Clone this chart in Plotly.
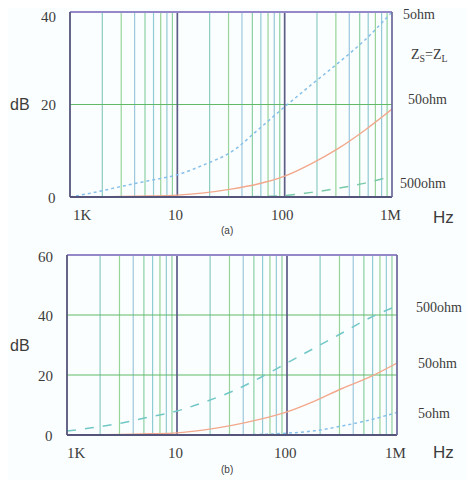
import numpy as np
import plotly.graph_objects as go

# ---------------- data ----------------
freq_hz = [1000, 1778, 3162, 5623, 10000, 17783, 31623, 56234,
           100000, 177828, 316228, 562341, 1000000]

# (a) Zs = ZL
a_5ohm = [0, 1.1, 2.4, 3.6, 4.8, 7.0, 9.7, 14.5, 19.5, 24.3, 29.0, 34.0, 40.0]
a_50ohm = [0, 0.05, 0.1, 0.2, 0.4, 0.9, 1.7, 2.8, 4.5, 7.2, 10.5, 14.5, 19.0]
a_500ohm = [0, 0, 0, 0, 0, 0, 0, 0.1, 0.3, 1.0, 1.9, 3.0, 4.5]

# (b)
b_500ohm = [1.3, 2.5, 4.0, 6.0, 8.0, 11.0, 14.5, 19.0, 24.0, 29.0, 34.0, 39.0, 43.0]
b_50ohm = [0, 0.1, 0.2, 0.4, 0.7, 1.7, 3.2, 5.2, 7.7, 11.3, 15.5, 19.3, 24.0]
b_5ohm = [0, 0, 0, 0, 0, 0, 0, 0.2, 0.6, 1.4, 3.0, 5.0, 7.5]

x_tick_vals = [1e3, 1e4, 1e5, 1e6]
x_tick_text = ["1K", "10", "100", "1M"]
a_y_ticks = [0, 20, 40]
b_y_ticks = [0, 20, 40, 60]
a_labels = ["5ohm", "Z<sub>S</sub>=Z<sub>L</sub>", "50ohm", "500ohm"]
a_label_y = [39.5, 30.5, 21.0, 3.0]
a_label_px = [401, 409, 406, 398]
b_labels = ["500ohm", "50ohm", "5ohm"]
b_label_y = [42.5, 24.0, 7.3]
b_label_px = [414, 416, 416]

# ---------------- styling ----------------
# the page body has an 8px default margin, so the figure is drawn 8px smaller
OFF = 8
W, H = 475 - OFF, 480 - OFF
SERIF = "Liberation Serif, Times New Roman, serif"
SANS = "Liberation Sans, Arial, sans-serif"
TXT = "#3c3c3c"

def px_x(p):
    return (p - OFF) / W

def px_y(p):
    return 1 - (p - OFF) / H

top_dom_x = [px_x(70), px_x(392)]
top_dom_y = [px_y(197), px_y(12)]
bot_dom_x = [px_x(67), px_x(397)]
bot_dom_y = [px_y(435), px_y(255)]

fig = go.Figure()

BLUE = "#86c0ea"
RED = "#f2a88c"
GREEN = "#78caa8"
CYAN = "#72c8c6"

fig.add_trace(go.Scatter(x=freq_hz, y=a_5ohm, mode="lines", line=dict(color=BLUE, width=1.5, dash="dot", shape="spline"), xaxis="x", yaxis="y", showlegend=False))
fig.add_trace(go.Scatter(x=freq_hz, y=a_50ohm, mode="lines", line=dict(color=RED, width=1.4, shape="spline"), xaxis="x", yaxis="y", showlegend=False))
fig.add_trace(go.Scatter(x=freq_hz, y=a_500ohm, mode="lines", line=dict(color=GREEN, width=1.5, dash="dash", shape="spline"), xaxis="x", yaxis="y", showlegend=False))

fig.add_trace(go.Scatter(x=freq_hz, y=b_500ohm, mode="lines", line=dict(color=CYAN, width=1.5, dash="dash", shape="spline"), xaxis="x2", yaxis="y2", showlegend=False))
fig.add_trace(go.Scatter(x=freq_hz, y=b_50ohm, mode="lines", line=dict(color=RED, width=1.4, shape="spline"), xaxis="x2", yaxis="y2", showlegend=False))
fig.add_trace(go.Scatter(x=freq_hz, y=b_5ohm, mode="lines", line=dict(color=BLUE, width=1.5, dash="dot", shape="spline"), xaxis="x2", yaxis="y2", showlegend=False))

shapes = []
minor_cols = ["#8ccbc2", "#96d49a", "#9cc8dc", "#8cd0a4", "#90cad2", "#98d298", "#94c8d6", "#8ed09e"]

def add_grid(xref, yref, hlines):
    # vertical minor grid lines (2..9 within each decade)
    for dec in range(3, 6):
        for i, m in enumerate(range(2, 10)):
            f = m * 10 ** dec
            shapes.append(dict(type="line", xref=xref, yref=yref + " domain", x0=f, x1=f, y0=0, y1=1,
                               line=dict(color=minor_cols[i], width=1.2), layer="below"))
    # horizontal grid
    for v in hlines:
        shapes.append(dict(type="line", xref=xref + " domain", yref=yref, x0=0, x1=1, y0=v, y1=v,
                           line=dict(color="#62ba66", width=1.2), layer="below"))
    # decade lines
    for f in x_tick_vals[1:-1]:
        shapes.append(dict(type="line", xref=xref, yref=yref + " domain", x0=f, x1=f, y0=0, y1=1,
                           line=dict(color="#5c5c86", width=1.7), layer="below"))
    # frame
    shapes.append(dict(type="line", xref=xref + " domain", yref=yref + " domain", x0=0, x1=1, y0=1, y1=1,
                       line=dict(color="#9488c8", width=1.8)))
    shapes.append(dict(type="line", xref=xref + " domain", yref=yref + " domain", x0=0, x1=1, y0=0, y1=0,
                       line=dict(color="#55557c", width=1.8)))
    shapes.append(dict(type="line", xref=xref + " domain", yref=yref + " domain", x0=0, x1=0, y0=0, y1=1,
                       line=dict(color="#55557c", width=1.8)))
    shapes.append(dict(type="line", xref=xref + " domain", yref=yref + " domain", x0=1, x1=1, y0=0, y1=1,
                       line=dict(color="#7070a0", width=1.8)))

add_grid("x", "y", [20])
add_grid("x2", "y2", [20, 40])

annotations = []

def x_labels(xref, yref, xshift_first):
    for i, (v, t) in enumerate(zip(x_tick_vals, x_tick_text)):
        annotations.append(dict(x=np.log10(v), y=0, xref=xref, yref=yref, text=t, showarrow=False,
                                yanchor="top", yshift=-8, xshift=(xshift_first if i == 0 else -2),
                                font=dict(family=SERIF, size=15, color=TXT)))

def y_labels(yref, vals, right_px, top_shift):
    for i, v in enumerate(vals):
        annotations.append(dict(x=px_x(right_px), y=v, xref="paper", yref=yref, text=str(v), showarrow=False,
                                xanchor="right", yanchor="middle",
                                yshift=(top_shift if i == len(vals) - 1 else -1),
                                font=dict(family=SERIF, size=15, color=TXT)))

x_labels("x", "y", 12)
x_labels("x2", "y2", 9)
y_labels("y", a_y_ticks, 58, -5)
y_labels("y2", b_y_ticks, 55, -2)

for t, yv, xp in zip(a_labels, a_label_y, a_label_px):
    annotations.append(dict(x=px_x(xp), y=yv, xref="paper", yref="y", text=t, showarrow=False,
                            xanchor="left", yanchor="middle",
                            font=dict(family=SERIF, size=14, color=TXT)))
for t, yv, xp in zip(b_labels, b_label_y, b_label_px):
    annotations.append(dict(x=px_x(xp), y=yv, xref="paper", yref="y2", text=t, showarrow=False,
                            xanchor="left", yanchor="middle",
                            font=dict(family=SERIF, size=14, color=TXT)))

for xr, yr, yv in [("x", "y", 20), ("x2", "y2", 30)]:
    annotations.append(dict(x=px_x(8), y=yv, xref="paper", yref=yr, text="dB", showarrow=False,
                            xanchor="left", yanchor="middle", font=dict(family=SANS, size=16, color=TXT)))
for yp in [217, 452]:
    annotations.append(dict(x=px_x(431), y=px_y(yp), xref="paper", yref="paper", text="Hz", showarrow=False,
                            xanchor="left", yanchor="middle", font=dict(family=SANS, size=17, color=TXT)))
for yp, t in [(230, "(a)"), (469, "(b)")]:
    annotations.append(dict(x=px_x(227), y=px_y(yp), xref="paper", yref="paper", text=t, showarrow=False,
                            xanchor="center", yanchor="middle", font=dict(family=SANS, size=10, color=TXT)))

def xaxis(dom):
    return dict(type="log", range=[3, 6], domain=dom, showgrid=False, zeroline=False, automargin=False,
                showticklabels=False, ticks="", showline=False, fixedrange=True)

def yaxis(dom, rng, anchor):
    return dict(range=rng, domain=dom, anchor=anchor, showgrid=False, zeroline=False, automargin=False,
                showticklabels=False, ticks="", showline=False, fixedrange=True)

fig.update_layout(
    width=W, height=H,
    margin=dict(l=0, r=0, t=0, b=0, pad=0, autoexpand=False),
    paper_bgcolor="#fbfefe", plot_bgcolor="#fbfefe",
    showlegend=False,
    xaxis=xaxis(top_dom_x) | dict(anchor="y"),
    yaxis=yaxis(top_dom_y, [0, 40], "x"),
    xaxis2=xaxis(bot_dom_x) | dict(anchor="y2"),
    yaxis2=yaxis(bot_dom_y, [0, 60], "x2"),
    shapes=shapes,
    annotations=annotations,
)

fig.write_html("out.html")
